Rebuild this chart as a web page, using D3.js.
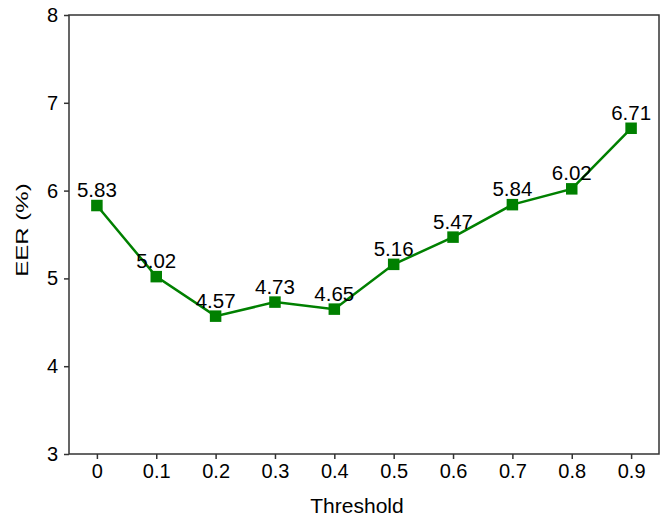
<!DOCTYPE html>
<html>
<head>
<meta charset="utf-8">
<script src="https://cdn.jsdelivr.net/npm/d3@7"></script>
<style>
  body { margin: 0; background: #fff; }
  text { font-family: "Liberation Sans", Arial, sans-serif; fill: #000; }
</style>
</head>
<body>
<div id="chart"></div>
<script>
// data
const thresholds = ['0', '0.1', '0.2', '0.3', '0.4', '0.5', '0.6', '0.7', '0.8', '0.9'];
const eerValues = [5.83, 5.02, 4.57, 4.73, 4.65, 5.16, 5.47, 5.84, 6.02, 6.71];
const yTicks = [3, 4, 5, 6, 7, 8];

const W = 661, H = 522;
const margin = { top: 15, right: 2, bottom: 68, left: 69 };
const width = W - margin.left - margin.right;
const height = H - margin.top - margin.bottom;
const lineColor = '#008000';
const frameColor = '#333';

const svg = d3.select('#chart').append('svg')
  .attr('width', W)
  .attr('height', H);

const g = svg.append('g')
  .attr('transform', `translate(${margin.left},${margin.top})`);

const x = d3.scalePoint()
  .domain(thresholds)
  .range([0, width])
  .padding(0.47);

const y = d3.scaleLinear()
  .domain([3, 8])
  .range([height, 0]);

// axes
const xAxis = g.append('g')
  .attr('transform', `translate(0,${height})`)
  .call(d3.axisBottom(x).tickSize(5).tickPadding(5).tickSizeOuter(0));

const yAxis = g.append('g')
  .call(d3.axisLeft(y).tickValues(yTicks).tickFormat(d3.format('d')).tickSize(5).tickPadding(6).tickSizeOuter(0));

[xAxis, yAxis].forEach(a => {
  a.select('.domain').remove();
  a.selectAll('line').attr('stroke', frameColor).attr('stroke-width', 1.5);
  a.selectAll('text')
    .style('font-size', '20px')
    .style('font-family', '"Liberation Sans", Arial, sans-serif')
    .attr('fill', '#000');
});

// frame box
g.append('rect')
  .attr('x', 0).attr('y', 0)
  .attr('width', width).attr('height', height)
  .attr('fill', 'none')
  .attr('stroke', frameColor)
  .attr('stroke-width', 1.5);

// line
const line = d3.line()
  .x((d, i) => x(thresholds[i]))
  .y(d => y(d));

g.append('path')
  .datum(eerValues)
  .attr('fill', 'none')
  .attr('stroke', lineColor)
  .attr('stroke-width', 2.5)
  .attr('d', line);

// square markers
const ms = 11.5;
g.selectAll('.mark')
  .data(eerValues)
  .enter().append('rect')
  .attr('class', 'mark')
  .attr('x', (d, i) => x(thresholds[i]) - ms / 2)
  .attr('y', d => y(d) - ms / 2)
  .attr('width', ms)
  .attr('height', ms)
  .attr('fill', lineColor);

// value labels
g.selectAll('.val')
  .data(eerValues)
  .enter().append('text')
  .attr('class', 'val')
  .attr('x', (d, i) => x(thresholds[i]))
  .attr('y', d => y(d) - 8.5)
  .attr('text-anchor', 'middle')
  .style('font-size', '20.5px')
  .text(d => d.toFixed(2));

// axis titles
svg.append('text')
  .attr('x', 357)
  .attr('y', 513)
  .attr('text-anchor', 'middle')
  .style('font-size', '21px')
  .text('Threshold');

// y title is drawn narrow and long in the reference
svg.append('text')
  .attr('transform', `translate(28,230) rotate(-90) scale(1.5,1)`)
  .attr('text-anchor', 'middle')
  .style('font-size', '16px')
  .text('EER (%)');
</script>
</body>
</html>
